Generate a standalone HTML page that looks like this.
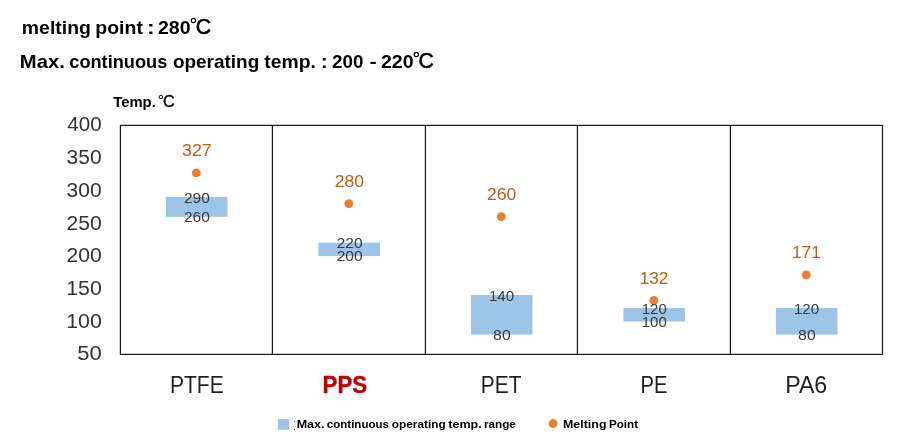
<!DOCTYPE html>
<html><head><meta charset="utf-8"><title>chart</title>
<style>
html,body{margin:0;padding:0;background:#fff;}
body{width:902px;height:444px;overflow:hidden;}
svg{display:block;will-change:transform;}
text{font-family:"Liberation Sans",sans-serif;}
</style></head><body>
<svg width="902" height="444" viewBox="0 0 902 444">
<rect x="0" y="0" width="902" height="444" fill="#ffffff"/>
<circle cx="193.4" cy="20.4" r="2.15" fill="none" stroke="#000" stroke-width="1.20"/>
<text transform="translate(195.7 33.8) scale(0.940 1)" font-size="22.6" fill="#000" stroke="#000" stroke-width="0.55">C</text>
<circle cx="416.3" cy="54.5" r="2.15" fill="none" stroke="#000" stroke-width="1.20"/>
<text transform="translate(418.6 68.0) scale(0.940 1)" font-size="22.6" fill="#000" stroke="#000" stroke-width="0.55">C</text>
<circle cx="160.9" cy="97.0" r="1.75" fill="none" stroke="#000" stroke-width="0.95"/>
<text transform="translate(163.1 107.0) scale(1.000 1)" font-size="16.2" fill="#000" stroke="#000" stroke-width="0.35">C</text>
<rect x="165.9" y="196.87" width="61.6" height="19.93" fill="#9dc3e6"/>
<rect x="318.4" y="242.67" width="61.6" height="13.39" fill="#9dc3e6"/>
<rect x="470.9" y="295.01" width="61.6" height="39.56" fill="#9dc3e6"/>
<rect x="623.4" y="308.10" width="61.6" height="13.39" fill="#9dc3e6"/>
<rect x="775.9" y="308.10" width="61.6" height="26.47" fill="#9dc3e6"/>
<g stroke="#161616" stroke-width="1.2" fill="none">
<rect x="120.4" y="125.4" width="762.1" height="229.0"/>
<line x1="272.4" y1="125.4" x2="272.4" y2="354.4"/>
<line x1="425.4" y1="125.4" x2="425.4" y2="354.4"/>
<line x1="577.4" y1="125.4" x2="577.4" y2="354.4"/>
<line x1="730.4" y1="125.4" x2="730.4" y2="354.4"/>
</g>
<circle cx="196.3" cy="172.9" r="4.4" fill="#ed7d31"/>
<circle cx="348.8" cy="203.6" r="4.4" fill="#ed7d31"/>
<circle cx="501.3" cy="216.7" r="4.4" fill="#ed7d31"/>
<circle cx="653.8" cy="300.4" r="4.4" fill="#ed7d31"/>
<circle cx="806.3" cy="274.9" r="4.4" fill="#ed7d31"/>
<rect x="277.8" y="419" width="11.1" height="10.8" fill="#9dc3e6"/>
<rect x="294" y="421" width="1" height="1" fill="#555"/>
<rect x="294" y="429" width="1" height="1" fill="#333"/>
<line x1="295.5" y1="422" x2="295.5" y2="429" stroke="#ddd" stroke-width="1" stroke-dasharray="1 1"/>
<circle cx="553.1" cy="423.5" r="4.4" fill="#ed7d31"/>
<text x="21.89" y="33.7" font-size="19.0" font-weight="bold" fill="#000" textLength="68.96" lengthAdjust="spacingAndGlyphs">melting</text>
<text x="95.25" y="33.7" font-size="19.0" font-weight="bold" fill="#000" textLength="47.63" lengthAdjust="spacingAndGlyphs">point</text>
<text x="147.14" y="33.7" font-size="19.0" font-weight="bold" fill="#000" textLength="7.66" lengthAdjust="spacingAndGlyphs">:</text>
<text x="157.97" y="33.7" font-size="19.0" font-weight="bold" fill="#000" textLength="32.53" lengthAdjust="spacingAndGlyphs">280</text>
<text x="19.88" y="67.8" font-size="19.0" font-weight="bold" fill="#000" textLength="44.95" lengthAdjust="spacingAndGlyphs">Max.</text>
<text x="69.28" y="67.8" font-size="19.0" font-weight="bold" fill="#000" textLength="98.08" lengthAdjust="spacingAndGlyphs">continuous</text>
<text x="172.92" y="67.8" font-size="19.0" font-weight="bold" fill="#000" textLength="86.35" lengthAdjust="spacingAndGlyphs">operating</text>
<text x="264.31" y="67.8" font-size="19.0" font-weight="bold" fill="#000" textLength="51.54" lengthAdjust="spacingAndGlyphs">temp.</text>
<text x="320.88" y="67.8" font-size="19.0" font-weight="bold" fill="#000" textLength="7.02" lengthAdjust="spacingAndGlyphs">:</text>
<text x="331.98" y="67.8" font-size="19.0" font-weight="bold" fill="#000" textLength="31.47" lengthAdjust="spacingAndGlyphs">200</text>
<text x="369.45" y="67.8" font-size="19.0" font-weight="bold" fill="#000" textLength="7.18" lengthAdjust="spacingAndGlyphs">-</text>
<text x="380.98" y="67.8" font-size="19.0" font-weight="bold" fill="#000" textLength="32.58" lengthAdjust="spacingAndGlyphs">220</text>
<text x="113.22" y="106.8" font-size="14.2" font-weight="bold" fill="#000" textLength="42.58" lengthAdjust="spacingAndGlyphs">Temp.</text>
<text x="296.65" y="427.9" font-size="11.6" font-weight="bold" fill="#000" textLength="27.90" lengthAdjust="spacingAndGlyphs">Max.</text>
<text x="326.87" y="427.9" font-size="11.6" font-weight="bold" fill="#000" textLength="62.04" lengthAdjust="spacingAndGlyphs">continuous</text>
<text x="391.75" y="427.9" font-size="11.6" font-weight="bold" fill="#000" textLength="53.96" lengthAdjust="spacingAndGlyphs">operating</text>
<text x="448.38" y="427.9" font-size="11.6" font-weight="bold" fill="#000" textLength="33.35" lengthAdjust="spacingAndGlyphs">temp.</text>
<text x="484.01" y="427.9" font-size="11.6" font-weight="bold" fill="#000" textLength="31.89" lengthAdjust="spacingAndGlyphs">range</text>
<text x="563.04" y="427.9" font-size="11.6" font-weight="bold" fill="#000" textLength="43.45" lengthAdjust="spacingAndGlyphs">Melting</text>
<text x="608.92" y="427.9" font-size="11.6" font-weight="bold" fill="#000" textLength="29.14" lengthAdjust="spacingAndGlyphs">Point</text>
<text x="169.95" y="392.7" font-size="23.2" fill="#1f1f1f" textLength="53.80" lengthAdjust="spacingAndGlyphs">PTFE</text>
<text x="322.60" y="392.7" font-size="23.2" font-weight="bold" fill="#c00000" textLength="44.57" lengthAdjust="spacingAndGlyphs" stroke="#c00000" stroke-width="0.35">PPS</text>
<text x="480.86" y="392.7" font-size="23.2" fill="#1f1f1f" textLength="40.64" lengthAdjust="spacingAndGlyphs">PET</text>
<text x="640.45" y="392.7" font-size="23.2" fill="#1f1f1f" textLength="26.99" lengthAdjust="spacingAndGlyphs">PE</text>
<text x="785.18" y="392.7" font-size="23.2" fill="#1f1f1f" textLength="42.01" lengthAdjust="spacingAndGlyphs">PA6</text>
<text x="77.34" y="360.4" font-size="19.4" fill="#333333" textLength="24.47" lengthAdjust="spacingAndGlyphs">50</text>
<text x="66.16" y="327.7" font-size="19.4" fill="#333333" textLength="35.59" lengthAdjust="spacingAndGlyphs">100</text>
<text x="66.16" y="295.0" font-size="19.4" fill="#333333" textLength="35.59" lengthAdjust="spacingAndGlyphs">150</text>
<text x="66.57" y="262.3" font-size="19.4" fill="#333333" textLength="35.23" lengthAdjust="spacingAndGlyphs">200</text>
<text x="66.57" y="229.5" font-size="19.4" fill="#333333" textLength="35.23" lengthAdjust="spacingAndGlyphs">250</text>
<text x="66.64" y="196.8" font-size="19.4" fill="#333333" textLength="34.94" lengthAdjust="spacingAndGlyphs">300</text>
<text x="66.64" y="164.1" font-size="19.4" fill="#333333" textLength="34.94" lengthAdjust="spacingAndGlyphs">350</text>
<text x="67.33" y="131.4" font-size="19.4" fill="#333333" textLength="34.32" lengthAdjust="spacingAndGlyphs">400</text>
<text x="183.95" y="202.5" font-size="14.3" fill="#3a3a3a" textLength="25.92" lengthAdjust="spacingAndGlyphs">290</text>
<text x="183.95" y="222.1" font-size="14.3" fill="#3a3a3a" textLength="25.92" lengthAdjust="spacingAndGlyphs">260</text>
<text x="336.65" y="248.3" font-size="14.3" fill="#3a3a3a" textLength="25.87" lengthAdjust="spacingAndGlyphs">220</text>
<text x="336.65" y="261.4" font-size="14.3" fill="#3a3a3a" textLength="25.87" lengthAdjust="spacingAndGlyphs">200</text>
<text x="488.94" y="300.6" font-size="14.3" fill="#3a3a3a" textLength="25.17" lengthAdjust="spacingAndGlyphs">140</text>
<text x="493.14" y="339.9" font-size="14.3" fill="#3a3a3a" textLength="17.58" lengthAdjust="spacingAndGlyphs">80</text>
<text x="641.81" y="313.7" font-size="14.3" fill="#3a3a3a" textLength="24.97" lengthAdjust="spacingAndGlyphs">120</text>
<text x="641.81" y="326.8" font-size="14.3" fill="#3a3a3a" textLength="24.97" lengthAdjust="spacingAndGlyphs">100</text>
<text x="793.94" y="313.7" font-size="14.3" fill="#3a3a3a" textLength="25.17" lengthAdjust="spacingAndGlyphs">120</text>
<text x="798.14" y="339.9" font-size="14.3" fill="#3a3a3a" textLength="17.58" lengthAdjust="spacingAndGlyphs">80</text>
<text x="182.02" y="156.2" font-size="16.3" fill="#c55a11" textLength="29.59" lengthAdjust="spacingAndGlyphs">327</text>
<text x="334.67" y="186.9" font-size="16.3" fill="#c55a11" textLength="29.25" lengthAdjust="spacingAndGlyphs">280</text>
<text x="487.04" y="200.0" font-size="16.3" fill="#c55a11" textLength="29.32" lengthAdjust="spacingAndGlyphs">260</text>
<text x="639.78" y="283.7" font-size="16.3" fill="#c55a11" textLength="28.55" lengthAdjust="spacingAndGlyphs">132</text>
<text x="792.05" y="258.2" font-size="16.3" fill="#c55a11" textLength="28.71" lengthAdjust="spacingAndGlyphs">171</text>
</svg>
</body></html>
